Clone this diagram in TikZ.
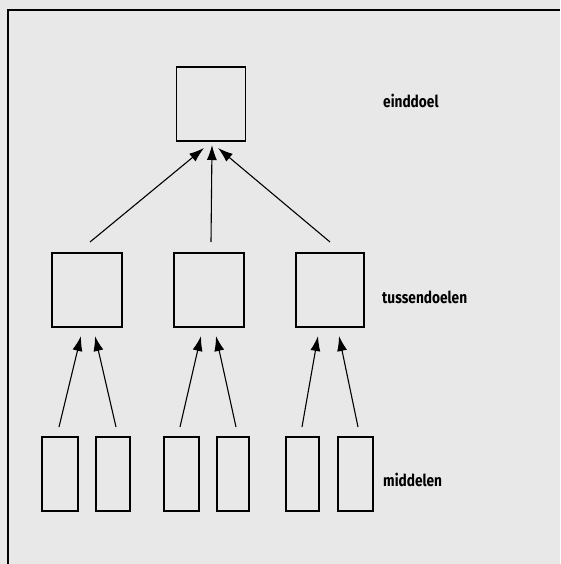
\documentclass[tikz,border=0pt]{standalone}
\usepackage{fontspec}
\setmainfont{Fira Sans}
\usetikzlibrary{arrows.meta}
\begin{document}
\begin{tikzpicture}[x=1pt,y=-1pt,
  boxs/.style={draw,line width=1.4pt,inner sep=0pt},
  arr/.style={line width=1.1pt,-{Latex[length=15pt,width=10pt]}},
  lab/.style={font=\fontsize{16.5}{18}\selectfont\bfseries\addfontfeatures{FakeStretch=0.83},anchor=west,inner sep=0pt}]
\useasboundingbox (0,0) rectangle (560,564);
\fill[black!9] (0,0) rectangle (560,564);
\draw[line width=1.6pt] (8,564) -- (8,10) -- (560,10);
% top
\node[boxs,minimum width=69pt,minimum height=74pt] (top) at (211,104) {};
\node[lab] (l1) at (383,101) {einddoel};
% middle
\node[boxs,minimum width=70pt,minimum height=74pt] (t1) at (87,290) {};
\node[boxs,minimum width=70pt,minimum height=74pt] (t2) at (209,290) {};
\node[boxs,minimum width=68pt,minimum height=74pt] (t3) at (330,290) {};
\node[lab] (l2) at (382,297) {tussendoelen};
% bottom
\node[boxs,minimum width=36pt,minimum height=74pt] (m1) at (60,474) {};
\node[boxs,minimum width=34pt,minimum height=74pt] (m2) at (113,474) {};
\node[boxs,minimum width=35pt,minimum height=74pt] (m3) at (181.5,474) {};
\node[boxs,minimum width=32pt,minimum height=74pt] (m4) at (233,474) {};
\node[boxs,minimum width=33pt,minimum height=74pt] (m5) at (302.5,474) {};
\node[boxs,minimum width=35pt,minimum height=74pt] (m6) at (355.5,474) {};
\node[lab] (l3) at (383,480) {middelen};
% top arrows
\coordinate (s1) at (90,242); \coordinate (e1) at (204,148);
\coordinate (s2) at (211,242); \coordinate (e2) at (212,145);
\coordinate (s3) at (330,242); \coordinate (e3) at (218,148);
\draw[arr] (s1) -- (e1);
\draw[arr] (s2) -- (e2);
\draw[arr] (s3) -- (e3);
% lower arrows
\coordinate (a1) at (59,427); \coordinate (b1) at (81,336);
\coordinate (a2) at (116,427); \coordinate (b2) at (95,336);
\coordinate (a3) at (180,427); \coordinate (b3) at (201,336);
\coordinate (a4) at (236,427); \coordinate (b4) at (216,336);
\coordinate (a5) at (302,427); \coordinate (b5) at (318,336);
\coordinate (a6) at (358,427); \coordinate (b6) at (339,336);
\foreach \i in {1,...,6} \draw[arr] (a\i) -- (b\i);
\end{tikzpicture}
\end{document}
